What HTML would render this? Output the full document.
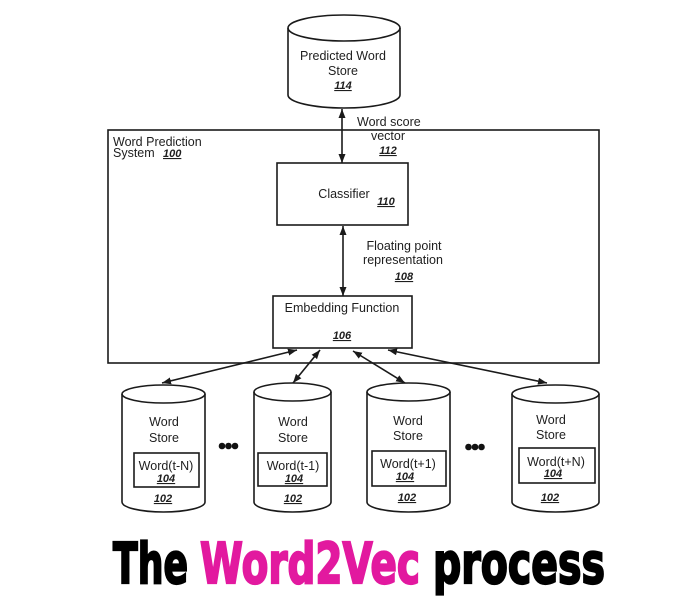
<!DOCTYPE html>
<html>
<head>
<meta charset="utf-8">
<style>
  html, body { margin: 0; padding: 0; background: #ffffff; }
  body { width: 700px; height: 610px; overflow: hidden; }
  svg { display: block; }
  .t { font-family: "Liberation Sans", Arial, sans-serif; font-size: 12.5px; fill: #1e1e1e; }
  .n { font-family: "Liberation Sans", Arial, sans-serif; font-size: 11px; font-weight: bold; font-style: italic; text-decoration: underline; fill: #1e1e1e; }
  .title { font-family: "DejaVu Sans", "Liberation Sans", sans-serif; font-weight: bold; font-size: 56px; }
</style>
</head>
<body>
<svg width="700" height="610" viewBox="0 0 700 610" xmlns="http://www.w3.org/2000/svg">
  <defs>
    <marker id="ah" viewBox="0 0 9 7" refX="9" refY="3.5" markerWidth="9" markerHeight="7" markerUnits="userSpaceOnUse" orient="auto-start-reverse">
      <path d="M0,0 L9,3.5 L0,7 z" fill="#1a1a1a"/>
    </marker>
  </defs>

  <!-- Main system box -->
  <rect x="108" y="130" width="491" height="233" fill="none" stroke="#1a1a1a" stroke-width="1.6"/>
  <text class="t" x="113" y="146">Word Prediction</text>
  <text class="t" x="113" y="157">System</text>
  <text class="n" x="163" y="157">100</text>

  <!-- Top cylinder: Predicted Word Store -->
  <path d="M288,28 A56,13 0 0 1 400,28 L400,95 A56,13 0 0 1 288,95 Z" fill="#fff" stroke="#1a1a1a" stroke-width="1.6"/>
  <path d="M288,28 A56,13 0 0 0 400,28" fill="none" stroke="#1a1a1a" stroke-width="1.6"/>
  <text class="t" x="343" y="60" text-anchor="middle">Predicted Word</text>
  <text class="t" x="343" y="75" text-anchor="middle">Store</text>
  <text class="n" x="343" y="89" text-anchor="middle">114</text>

  <!-- Arrow cylinder <-> classifier -->
  <line x1="342" y1="109" x2="342" y2="163" stroke="#1a1a1a" stroke-width="1.6" marker-start="url(#ah)" marker-end="url(#ah)"/>
  <text class="t" x="357" y="126">Word score</text>
  <text class="t" x="388" y="140" text-anchor="middle">vector</text>
  <text class="n" x="388" y="154" text-anchor="middle">112</text>

  <!-- Classifier -->
  <rect x="277" y="163" width="131" height="62" fill="#fff" stroke="#1a1a1a" stroke-width="1.6"/>
  <text class="t" x="344" y="198" text-anchor="middle">Classifier</text>
  <text class="n" x="386" y="205" text-anchor="middle">110</text>

  <!-- Arrow classifier <-> embedding -->
  <line x1="343" y1="226" x2="343" y2="296" stroke="#1a1a1a" stroke-width="1.6" marker-start="url(#ah)" marker-end="url(#ah)"/>
  <text class="t" x="404" y="250" text-anchor="middle">Floating point</text>
  <text class="t" x="403" y="264" text-anchor="middle">representation</text>
  <text class="n" x="404" y="280" text-anchor="middle">108</text>

  <!-- Embedding Function -->
  <rect x="273" y="296" width="139" height="52" fill="#fff" stroke="#1a1a1a" stroke-width="1.6"/>
  <text class="t" x="342" y="312" text-anchor="middle">Embedding Function</text>
  <text class="n" x="342" y="339" text-anchor="middle">106</text>

  <!-- Arrows embedding <-> word stores -->
  <line x1="297" y1="350" x2="162" y2="383" stroke="#1a1a1a" stroke-width="1.6" marker-start="url(#ah)" marker-end="url(#ah)"/>
  <line x1="320" y1="350" x2="293" y2="383" stroke="#1a1a1a" stroke-width="1.6" marker-start="url(#ah)" marker-end="url(#ah)"/>
  <line x1="353" y1="351" x2="405" y2="383" stroke="#1a1a1a" stroke-width="1.6" marker-start="url(#ah)" marker-end="url(#ah)"/>
  <line x1="388" y1="350" x2="547" y2="383" stroke="#1a1a1a" stroke-width="1.6" marker-start="url(#ah)" marker-end="url(#ah)"/>

  <!-- Cylinder 1 -->
  <path d="M122,394 A41.5,9 0 0 1 205,394 L205,502 A41.5,10 0 0 1 122,502 Z" fill="#fff" stroke="#1a1a1a" stroke-width="1.6"/>
  <path d="M122,394 A41.5,9 0 0 0 205,394" fill="none" stroke="#1a1a1a" stroke-width="1.6"/>
  <text class="t" x="164" y="426" text-anchor="middle">Word</text>
  <text class="t" x="164" y="442" text-anchor="middle">Store</text>
  <rect x="134" y="453" width="65" height="34" fill="none" stroke="#1a1a1a" stroke-width="1.6"/>
  <text class="t" x="166" y="470" text-anchor="middle">Word(t-N)</text>
  <text class="n" x="166" y="482" text-anchor="middle">104</text>
  <text class="n" x="163" y="502" text-anchor="middle">102</text>

  <!-- dots 1 -->
  <circle cx="222" cy="446" r="3.3" fill="#111"/>
  <circle cx="228.5" cy="446" r="3.3" fill="#111"/>
  <circle cx="235" cy="446" r="3.3" fill="#111"/>

  <!-- Cylinder 2 -->
  <path d="M254,392 A38.5,9 0 0 1 331,392 L331,502 A38.5,10 0 0 1 254,502 Z" fill="#fff" stroke="#1a1a1a" stroke-width="1.6"/>
  <path d="M254,392 A38.5,9 0 0 0 331,392" fill="none" stroke="#1a1a1a" stroke-width="1.6"/>
  <text class="t" x="293" y="426" text-anchor="middle">Word</text>
  <text class="t" x="293" y="442" text-anchor="middle">Store</text>
  <rect x="258" y="453" width="69" height="33" fill="none" stroke="#1a1a1a" stroke-width="1.6"/>
  <text class="t" x="293" y="470" text-anchor="middle">Word(t-1)</text>
  <text class="n" x="294" y="482" text-anchor="middle">104</text>
  <text class="n" x="293" y="502" text-anchor="middle">102</text>

  <!-- Cylinder 3 -->
  <path d="M367,392 A41.5,9 0 0 1 450,392 L450,502 A41.5,10 0 0 1 367,502 Z" fill="#fff" stroke="#1a1a1a" stroke-width="1.6"/>
  <path d="M367,392 A41.5,9 0 0 0 450,392" fill="none" stroke="#1a1a1a" stroke-width="1.6"/>
  <text class="t" x="408" y="425" text-anchor="middle">Word</text>
  <text class="t" x="408" y="440" text-anchor="middle">Store</text>
  <rect x="372" y="451" width="74" height="35" fill="none" stroke="#1a1a1a" stroke-width="1.6"/>
  <text class="t" x="408" y="468" text-anchor="middle">Word(t+1)</text>
  <text class="n" x="405" y="480" text-anchor="middle">104</text>
  <text class="n" x="407" y="501" text-anchor="middle">102</text>

  <!-- dots 2 -->
  <circle cx="468.5" cy="447" r="3.3" fill="#111"/>
  <circle cx="475" cy="447" r="3.3" fill="#111"/>
  <circle cx="481.5" cy="447" r="3.3" fill="#111"/>

  <!-- Cylinder 4 -->
  <path d="M512,394 A43.5,9 0 0 1 599,394 L599,502 A43.5,10 0 0 1 512,502 Z" fill="#fff" stroke="#1a1a1a" stroke-width="1.6"/>
  <path d="M512,394 A43.5,9 0 0 0 599,394" fill="none" stroke="#1a1a1a" stroke-width="1.6"/>
  <text class="t" x="551" y="424" text-anchor="middle">Word</text>
  <text class="t" x="551" y="439" text-anchor="middle">Store</text>
  <rect x="519" y="448" width="76" height="35" fill="none" stroke="#1a1a1a" stroke-width="1.6"/>
  <text class="t" x="556" y="466" text-anchor="middle">Word(t+N)</text>
  <text class="n" x="553" y="477" text-anchor="middle">104</text>
  <text class="n" x="550" y="501" text-anchor="middle">102</text>

  <!-- Title -->
  <text class="title" x="113" y="583" textLength="75" lengthAdjust="spacingAndGlyphs" fill="#000" stroke="#000" stroke-width="2.2">The</text>
  <text class="title" x="200" y="583" textLength="220" lengthAdjust="spacingAndGlyphs" fill="#e2199f" stroke="#e2199f" stroke-width="2.2">Word2Vec</text>
  <text class="title" x="433" y="583" textLength="172" lengthAdjust="spacingAndGlyphs" fill="#000" stroke="#000" stroke-width="2.2">process</text>
</svg>
</body>
</html>
